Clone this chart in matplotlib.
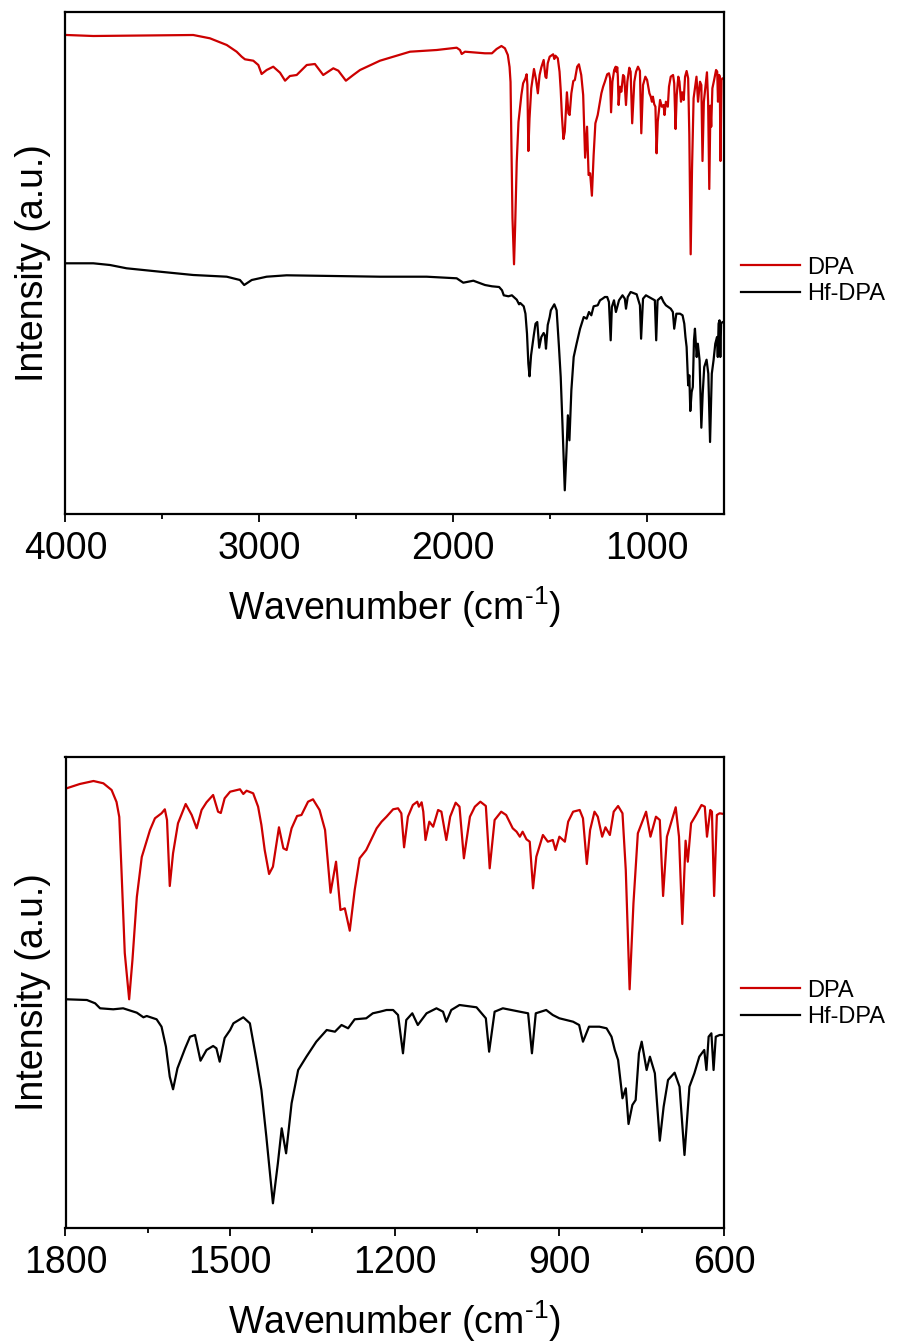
import matplotlib
matplotlib.use("Agg")
import matplotlib.pyplot as plt
from matplotlib.ticker import MultipleLocator, AutoMinorLocator

plt.rcParams["font.family"] = ["Liberation Sans", "DejaVu Sans"]
plt.rcParams["mathtext.default"] = "regular"

# FTIR spectra (wavenumber in cm-1, intensity in a.u.)
dpa_wn = [
    3993, 3856, 3340, 3254, 3167, 3116, 3090, 3073, 3030, 3004, 2987, 2961,
    2927, 2892, 2866, 2841, 2806, 2754, 2712, 2669, 2617, 2591, 2552, 2514,
    2479, 2376, 2307, 2221, 2083, 1980, 1963, 1954, 1937, 1834,
    1798, 1774, 1749, 1731, 1716, 1707, 1702, 1698, 1692, 1684, 1678, 1670,
    1661, 1646, 1637, 1625, 1619, 1615, 1610, 1604, 1595, 1581, 1570, 1561,
    1552, 1543, 1531, 1522, 1517, 1510, 1500, 1482, 1476, 1470, 1458, 1449,
    1443, 1437, 1429, 1422, 1411, 1403, 1397, 1388, 1378, 1370, 1358, 1349,
    1337, 1327, 1317, 1307, 1299, 1291, 1282, 1273, 1264, 1252, 1233, 1224,
    1215, 1203, 1194, 1188, 1183, 1176, 1167, 1159, 1156, 1151, 1148, 1144,
    1137, 1130, 1121, 1115, 1106, 1099, 1089, 1082, 1074, 1063, 1054, 1044,
    1034, 1027, 1018, 1006, 997, 985, 978, 972, 967, 960, 954, 948, 942, 930,
    921, 912, 907, 900, 890, 884, 875, 863, 857, 850, 844, 836, 830, 822, 816,
    808, 801, 793, 785, 779, 772, 765, 757, 742, 734, 724, 717, 711, 704, 688,
    682, 676, 670, 666, 660, 651, 641, 635, 631, 625, 622, 618, 613, 608, 600,
]
dpa_int = [
    458, 457, 458, 454.7, 448, 441.3, 436.3, 433.7, 432.3, 428, 419, 423,
    426.3, 420.3, 412.3, 417, 418, 428, 429, 418, 424.7, 422.3, 412.3, 418,
    423, 432.3, 436.3, 441.3, 443, 445.3, 443, 439, 441.3, 439.7,
    439.7, 444, 447, 444.7, 438, 426, 411, 358, 275, 228.7, 268, 331,
    371, 398, 409.7, 414.7, 418.7, 408, 342, 374.7, 404.7, 424, 413, 399.7,
    418, 425.7, 433, 416.3, 415, 429.7, 436.3, 438.7, 434, 437.3, 434.7, 421.3,
    403, 378, 354, 361.3, 400.7, 379.7, 378, 399.7, 412, 413, 426.3, 428.7,
    418, 398, 335.3, 366.3, 318, 319.7, 297.3, 338, 369.7, 378, 399.7, 406.3,
    411.3, 418.7, 419.7, 414.7, 380.7, 411.3, 423, 426.3, 421.3, 425.7, 416.3, 388,
    406.3, 401.3, 418, 416.3, 388, 411.3, 425.3, 421.3, 369.7, 411.3, 421.3, 426.3,
    422, 359.7, 408, 416.3, 413, 399.7, 396.3, 391.3, 396.3, 388.7, 386.3, 339.7, 371.3, 393,
    386.3, 388, 378, 391.3, 386.3, 406.3, 416.3, 418, 409.7, 364, 398, 416.3, 411.3, 391.3, 400.7,
    393, 416.3, 422, 414.7, 358, 238.7, 324.7, 394.7, 416.3, 391.3, 411.3, 408, 332, 391.3, 420.7,
    391.3, 304, 387.3, 366.3, 404.7, 413, 423, 421.3, 391.3, 418, 416.3, 332, 413, 414.7, 414,
]

hf_wn = [
    3993, 3856, 3770, 3684, 3512, 3340, 3167, 3099, 3077, 3038, 2961, 2858,
    2376, 2135, 1980, 1946, 1894, 1834,
    1798, 1761, 1746, 1737, 1713, 1695, 1670, 1658, 1652, 1634, 1625, 1617,
    1610, 1604, 1596, 1582, 1573, 1564, 1554, 1543, 1531, 1525, 1519, 1510,
    1500, 1494, 1476, 1464, 1452, 1443, 1434, 1422, 1413, 1406, 1398, 1388,
    1376, 1361, 1343, 1324, 1309, 1297, 1285, 1273, 1252, 1240, 1227, 1215,
    1203, 1194, 1185, 1179, 1168, 1158, 1142, 1124, 1112, 1106, 1097, 1082,
    1051, 1034, 1028, 1018, 1003, 972, 957, 950, 943, 924, 912, 900, 875,
    864, 857, 846, 827, 814, 805, 799, 793, 785, 779, 774, 767, 761, 755,
    750, 741, 735, 726, 717, 710, 702, 690, 681, 672, 663, 654, 645, 636,
    632, 628, 623, 619, 615, 608, 600,
]
hf_int = [
    251.7, 251.7, 250, 246.7, 243.3, 240, 238.3, 235, 230, 235, 238.3, 239.7,
    238.3, 238.3, 236.7, 232.3, 234.3, 230,
    228.7, 228, 224.7, 219.7, 218.7, 219.7, 215.3, 210.7, 212, 208.7, 201.3, 181.3,
    151.3, 138.7, 159.7, 179.7, 191.3, 193, 167.3, 178, 182, 179.7, 166.3, 190,
    198, 204.7, 210.7, 204.7, 168, 138, 91.3, 24.7, 64.7, 99.7, 74.7, 124.7,
    158, 171.3, 186.3, 198, 196.3, 203, 199.7, 208.7, 209.7, 214.7, 216.3, 218,
    218, 213, 174.7, 208, 214.7, 203, 214.7, 219.7, 216.3, 206.3, 218, 223,
    220.7, 209.7, 176.3, 216.3, 219.7, 216.3, 214.7, 174.7, 214.7, 218, 213, 209.7, 206.3,
    203, 186.3, 201.3, 201.3, 199.7, 191.3, 178, 168, 129.7, 139.7, 104, 123, 128, 174.7,
    186.3, 158, 171.3, 154.7, 87.3, 121.3, 148, 155.3, 141.3, 73, 141.3, 154.7, 171.3, 178,
    158, 191.3, 194.7, 158, 191.3, 193, 193,
]

RED = "#cc0000"
FIG_W, FIG_H = 900, 1344

fig = plt.figure(figsize=(FIG_W / 100, FIG_H / 100), dpi=100)


def px_box(left, top, right, bottom):
    return [left / FIG_W, 1 - bottom / FIG_H, (right - left) / FIG_W, (bottom - top) / FIG_H]


def draw_panel(box, xlim, major, ylim, offsets, legend_y):
    ax = fig.add_axes(px_box(*box))
    ax.plot(dpa_wn, [v + offsets[0] for v in dpa_int], color=RED, lw=1.6, label="DPA")
    ax.plot(hf_wn, [v + offsets[1] for v in hf_int], color="black", lw=1.6, label="Hf-DPA")
    ax.set_xlim(*xlim)
    ax.set_ylim(*ylim)
    ax.xaxis.set_major_locator(MultipleLocator(major))
    ax.xaxis.set_minor_locator(AutoMinorLocator(2))
    ax.tick_params(axis="x", which="major", direction="out", length=6, width=1.3,
                   labelsize=27, pad=6)
    ax.tick_params(axis="x", which="minor", direction="out", length=3.5, width=1.3)
    ax.tick_params(axis="y", left=False, labelleft=False)
    for sp in ax.spines.values():
        sp.set_linewidth(1.6)
    ax.set_xlabel("Wavenumber (cm$^{\u20101}$)", fontsize=27, labelpad=13)
    ax.set_ylabel("Intensity (a.u.)", fontsize=27)
    ax.yaxis.set_label_coords(-0.022, 0.5)
    ax.legend(loc="center left", bbox_to_anchor=(741 / FIG_W, 1 - legend_y / FIG_H),
              bbox_transform=fig.transFigure, frameon=False, fontsize=17,
              borderaxespad=0, borderpad=0, handlelength=2.5, handletextpad=0.3,
              labelspacing=0.2)
    return ax


draw_panel((65.4, 12, 724, 514), (4000, 600), 1000, (0, 502), (21, -1), 281)
draw_panel((65.5, 757, 724, 1228), (1800, 600), 300, (0, 471), (0, 0), 1004)

fig.savefig("out.png", dpi=100)
